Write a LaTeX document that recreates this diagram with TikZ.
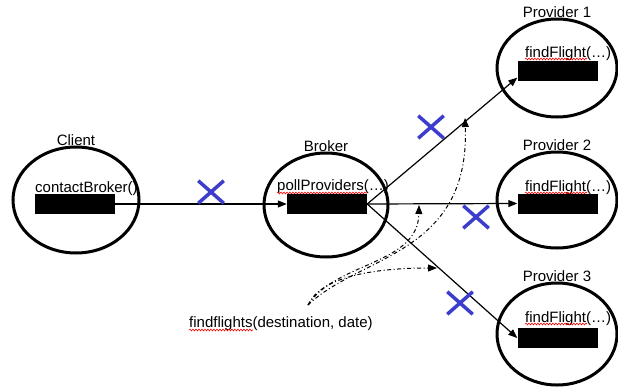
\documentclass[tikz,border=0pt]{standalone}
\usepackage{fontspec}
\setmainfont{Liberation Sans}
\usepackage{tikz}
\usetikzlibrary{arrows.meta,shapes.geometric,shapes.misc,decorations.pathmorphing}
\definecolor{crossblue}{RGB}{60,60,205}

\begin{document}
\begin{tikzpicture}
    [
      x=1pt, y=-1pt,
      every node/.style = {font=\fontsize{15}{18}\selectfont},
      every label/.style = {inner sep=0pt},
      host/.style = {draw, ellipse, line width=3pt, inner sep=0pt, label distance=-2pt},
      txt/.style = {anchor=base west, inner sep=0pt},
      box/.style = {fill=black, minimum width=80, minimum height=20, inner sep=0pt},
      link/.style = {-{Triangle[length=9pt,width=7pt]}, line width=1.2pt},
      call/.style = {-{Triangle[length=9pt,width=7pt]}, line width=1pt,
                     dash pattern=on 4pt off 2.5pt on 1pt off 2.5pt},
      xmark/.style = {cross out, draw=crossblue, line width=3.5pt,
                      minimum width=22, minimum height=19, inner sep=0pt},
      squig/.style = {red, line width=0.6pt,
                      decorate, decoration={snake, amplitude=0.9pt, segment length=3pt}},
    ]
    \useasboundingbox (0,0) rectangle (618,391);

    \node[host, minimum width=126, minimum height=106, label=above:Client]     (client) at (76,200) {};
    \node[host, minimum width=124, minimum height=104, label=above:Broker]     (broker) at (326,205) {};
    \node[host, minimum width=120, minimum height=98,  label=above:Provider 1] (prov1)  at (557,68) {};
    \node[host, minimum width=120, minimum height=96,  label=above:Provider 2] (prov2)  at (557,200) {};
    \node[host, minimum width=120, minimum height=102, label=above:Provider 3] (prov3)  at (557,334) {};

    \node[txt] (ctext)  at (35,192)  {contactBroker()};
    \node[txt] (btext)  at (277,190) {pollProviders(…)};
    \node[txt] (p1text) at (525,57)  {findFlight(…)};
    \node[txt] (p2text) at (525,191) {findFlight(…)};
    \node[txt] (p3text) at (525,322) {findFlight(…)};
    \node[txt] (fftext) at (189,327) {findflights(destination, date)};

    % spell-check marks
    \draw[squig] ([yshift=-3pt]btext.base west)  -- +(90,0);
    \draw[squig] ([yshift=-2pt]p1text.base west) -- +(62,0);
    \draw[squig] ([yshift=-2pt]p2text.base west) -- +(62,0);
    \draw[squig] ([yshift=-2pt]p3text.base west) -- +(62,0);
    \draw[squig] ([yshift=-3pt]fftext.base west) -- +(64,0);

    \node[box] (cbox)  at (75,204) {};
    \node[box] (bbox)  at (327,204) {};
    \node[box] (p1box) at (557.5,70.5) {};
    \node[box] (p2box) at (557.5,203.5) {};
    \node[box] (p3box) at (557.5,338) {};

    \draw[link] (cbox.east) -- (bbox.west);
    \draw[link] (bbox.east) -- (p1box.190);
    \draw[link] (bbox.east) -- (p2box.west);
    \draw[link] (bbox.east) -- (p3box.west);

    \node[xmark] (x0) at (211,192) {};
    \node[xmark] (x1) at (431,127) {};
    \node[xmark] (x2) at (476,217) {};
    \node[xmark] (x3) at (460,303) {};

    \coordinate (q)  at (308,305);
    \coordinate (qa) at (465,118);
    \coordinate (qb) at (419,205);
    \coordinate (qc) at (437,268);
    \draw[call] (q) .. controls (360,255) and (470,255) .. (qa);
    \draw[call] (q) .. controls (335,262) and (418,265) .. (qb);
    \draw[call] (q) .. controls (320,278) and (370,268) .. (qc);
\end{tikzpicture}
\end{document}
